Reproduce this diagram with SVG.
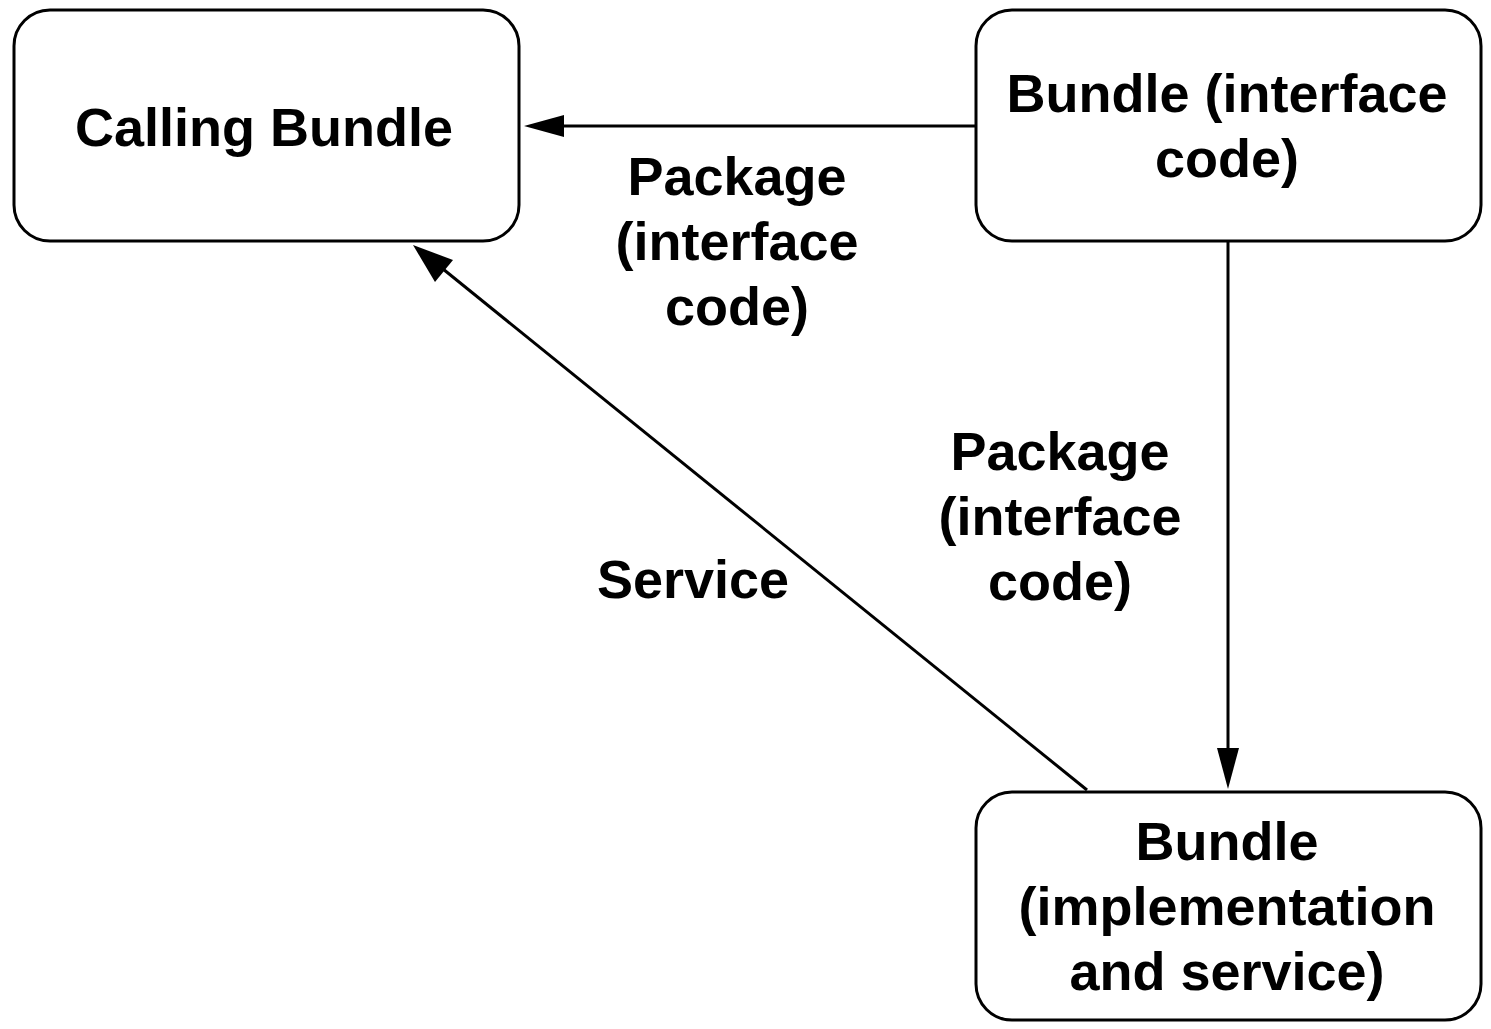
<svg xmlns="http://www.w3.org/2000/svg" width="1491" height="1029" viewBox="0 0 1491 1029">
<style>
.box{fill:#fff;stroke:#000;stroke-width:3}
.t{font-family:"Liberation Sans",Arial,Helvetica,sans-serif;font-weight:bold;font-size:54px;fill:#000;text-anchor:middle}
.edge{fill:none;stroke:#000;stroke-width:3}
</style>
<defs>
<marker id="arr" markerUnits="userSpaceOnUse" markerWidth="44" markerHeight="26" refX="42" refY="12" orient="auto" viewBox="0 0 44 26">
<polygon points="0,1 42,12 0,23" fill="#000"/>
</marker>
</defs>
<rect width="1491" height="1029" fill="#fff"/>
<g id="connectors">
<line class="edge" x1="976" y1="126" x2="564" y2="126"/>
<polygon points="524,126 564,115 564,137" fill="#000"/>
<line class="edge" x1="1228" y1="241" x2="1228" y2="748"/>
<polygon points="1228,789 1217,748 1239,748" fill="#000"/>
<line class="edge" x1="1087" y1="790" x2="443" y2="269"/>
<polygon points="413,245 453,260 435,282" fill="#000"/>
<text class="t" x="737" y="195">Package</text>
<text class="t" x="737" y="260">(interface</text>
<text class="t" x="737" y="325">code)</text>
<text class="t" x="1060" y="470">Package</text>
<text class="t" x="1060" y="535">(interface</text>
<text class="t" x="1060" y="600">code)</text>
<text class="t" x="693" y="598">Service</text>
</g>
<g id="calling-bundle">
<rect class="box" x="14" y="10" width="505" height="231" rx="36" ry="36"/>
<text class="t" x="264" y="146">Calling Bundle</text>
</g>
<g id="bundle-interface">
<rect class="box" x="976" y="10" width="505" height="231" rx="36" ry="36"/>
<text class="t" x="1227" y="112">Bundle (interface</text>
<text class="t" x="1227" y="177">code)</text>
</g>
<g id="bundle-implementation">
<rect class="box" x="976" y="792" width="505" height="228" rx="36" ry="36"/>
<text class="t" x="1227" y="860">Bundle</text>
<text class="t" x="1227" y="925">(implementation</text>
<text class="t" x="1227" y="990">and service)</text>
</g>
</svg>
